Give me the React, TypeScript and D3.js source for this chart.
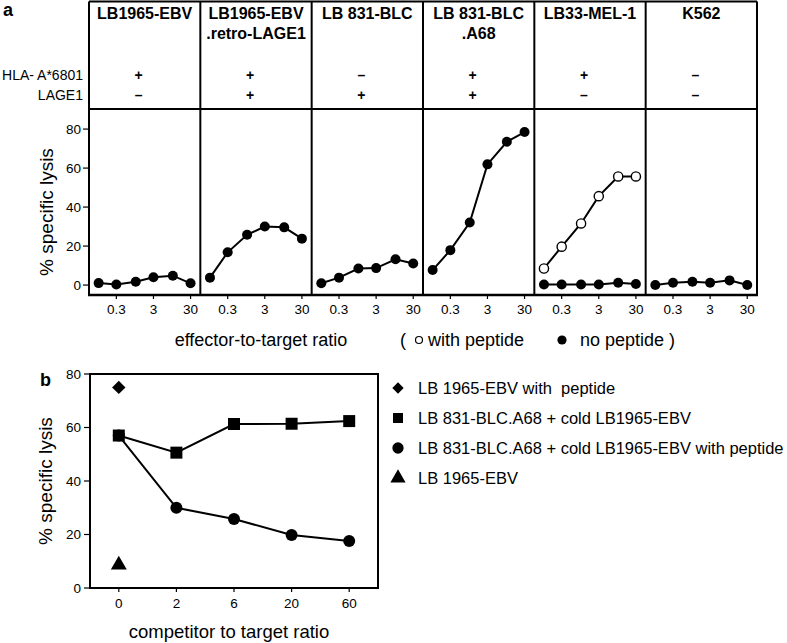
import React from "react";
import * as d3 from "d3";

// panel a
const cellLines = ["LB1965-EBV", "LB1965-EBV", "LB 831-BLC", "LB 831-BLC", "LB33-MEL-1", "K562"];
const cellLines2 = ["", ".retro-LAGE1", "", ".A68", "", ""];
const hlaA6801 = ["+", "+", "–", "+", "+", "–"];
const lage1 = ["–", "+", "+", "+", "–", "–"];
const etRatios = [0.1, 0.3, 1, 3, 10, 30];
const etTicks = [0.3, 3, 30];
const lysisTicksA = [0, 20, 40, 60, 80];
const noPeptide = [
  [1, 0.3, 1.7, 4, 4.8, 0.9],
  [3.8, 16.8, 25.8, 30, 29.6, 23.8],
  [0.9, 3.8, 8.5, 8.7, 13.2, 11.1],
  [7.7, 17.9, 32.1, 61.9, 73.5, 78.5],
  [0.3, 0.3, 0.3, 0.3, 1.2, 0.5],
  [0, 1.2, 1.7, 1.2, 2.4, 0],
];
const withPeptide: (number[] | null)[] = [null, null, null, null, [8.5, 19.7, 31.6, 45.6, 55.7, 55.7], null];

// panel b
const competitorRatios = ["0", "2", "6", "20", "60"];
const coldEBV = [57, 50.6, 61.3, 61.4, 62.4];
const coldEBVPeptide = [57, 30, 25.8, 19.8, 17.6];
const ebvWithPeptide = 75;
const ebvAlone = 8.6;
const lysisTicksB = [0, 20, 40, 60, 80];
const legendB = [
  "LB 1965-EBV with  peptide",
  "LB 831-BLC.A68 + cold LB1965-EBV",
  "LB 831-BLC.A68 + cold LB1965-EBV with peptide",
  "LB 1965-EBV",
];

const font = "'Liberation Sans', Arial, Helvetica, sans-serif";

export default function App() {
  const W = 787, H = 643;

  // ---- panel a layout
  const aLeft = 89, aRight = 757, aTop = 1.5, aHead = 109, aBottom = 295;
  const col = d3.scaleBand<number>().domain(d3.range(6)).range([aLeft, aRight]);
  const yA = d3.scaleLinear().domain([-5.1, 90.3]).range([aBottom, aHead]);
  const xFor = (i: number) =>
    d3.scaleLog().domain([0.055, 55]).range([col(i)!, col(i)! + col.bandwidth()]);

  // ---- panel b layout
  const bLeft = 90, bRight = 378, bTop = 374, bBottom = 588;
  const xB = d3.scalePoint<string>().domain(competitorRatios).range([bLeft, bRight]).padding(0.5);
  const yB = d3.scaleLinear().domain([0, 80]).range([bBottom, bTop]);
  const lineB = d3.line<number>().x((_, i) => xB(competitorRatios[i])!).y(d => yB(d));

  const sym = (type: d3.SymbolType, size: number) => d3.symbol().type(type).size(size)()!;

  return (
    <svg width={W} height={H} style={{ position: "absolute", left: 0, top: 0, background: "#fff" }} fontFamily={font}>
      {/* panel a */}
      <text x={3} y={16} fontSize={18} fontWeight="bold">a</text>
      <text x={83} y={80} fontSize={14} textAnchor="end">HLA- A*6801</text>
      <text x={83} y={100} fontSize={14} textAnchor="end">LAGE1</text>

      {d3.range(6).map(i => {
        const x = xFor(i);
        const cx = col(i)! + col.bandwidth() / 2;
        const line = d3.line<number>().x((_, k) => x(etRatios[k])).y(d => yA(d));
        const wp = withPeptide[i];
        return (
          <g key={i}>
            <text x={cx} y={19} fontSize={16} fontWeight="bold" textAnchor="middle">{cellLines[i]}</text>
            {cellLines2[i] && (
              <text x={cx} y={39} fontSize={16} fontWeight="bold" textAnchor="middle">{cellLines2[i]}</text>
            )}
            <text x={cx - 6} y={80} fontSize={14} textAnchor="middle" fontWeight="bold">{hlaA6801[i]}</text>
            <text x={cx - 6} y={100} fontSize={14} textAnchor="middle" fontWeight="bold">{lage1[i]}</text>
            {etTicks.map(t => (
              <g key={t}>
                <line x1={x(t)} x2={x(t)} y1={aBottom} y2={aBottom + 4} stroke="#000" strokeWidth={1.2} />
                <text x={x(t)} y={314} fontSize={13.5} textAnchor="middle">{t}</text>
              </g>
            ))}
            {wp && (
              <g>
                <path d={line(wp)!} fill="none" stroke="#000" strokeWidth={2} />
                {wp.map((d, k) => (
                  <circle key={k} cx={x(etRatios[k])} cy={yA(d)} r={4.6} fill="#fff" stroke="#000" strokeWidth={1.4} />
                ))}
              </g>
            )}
            <path d={line(noPeptide[i])!} fill="none" stroke="#000" strokeWidth={2} />
            {noPeptide[i].map((d, k) => (
              <circle key={k} cx={x(etRatios[k])} cy={yA(d)} r={5} fill="#000" />
            ))}
            <line x1={col(i)!} x2={col(i)!} y1={aTop} y2={aBottom} stroke="#000" strokeWidth={2} />
          </g>
        );
      })}
      <line x1={aRight} x2={aRight} y1={aTop} y2={aBottom} stroke="#000" strokeWidth={2} />
      <line x1={aLeft} x2={aRight} y1={aTop} y2={aTop} stroke="#000" strokeWidth={2} />
      <line x1={aLeft} x2={aRight} y1={aHead} y2={aHead} stroke="#000" strokeWidth={2} />
      <line x1={aLeft - 1} x2={aRight + 1} y1={aBottom} y2={aBottom} stroke="#000" strokeWidth={2.4} />
      {lysisTicksA.map(t => (
        <g key={t}>
          <line x1={aLeft - 6} x2={aLeft} y1={yA(t)} y2={yA(t)} stroke="#000" strokeWidth={1.2} />
          <text x={aLeft - 8} y={yA(t)} dy="0.35em" fontSize={13.5} textAnchor="end">{t}</text>
        </g>
      ))}
      <text transform={`translate(53,${(aHead + aBottom) / 2 + 10}) rotate(-90)`} fontSize={19} textAnchor="middle">% specific lysis</text>
      <text x={261} y={346} fontSize={18} textAnchor="middle">effector-to-target ratio</text>
      <text x={400} y={346} fontSize={18}>(</text>
      <circle cx={419} cy={340} r={3.5} fill="#fff" stroke="#000" strokeWidth={1.2} />
      <text x={428} y={346} fontSize={18}>with peptide</text>
      <circle cx={562} cy={340} r={4.6} fill="#000" />
      <text x={580} y={346} fontSize={18}>no peptide )</text>

      {/* panel b */}
      <text x={40} y={386} fontSize={18} fontWeight="bold">b</text>
      <rect x={bLeft} y={bTop} width={bRight - bLeft} height={bBottom - bTop} fill="none" stroke="#000" strokeWidth={2} />
      {lysisTicksB.map(t => (
        <g key={t}>
          <line x1={bLeft - 6} x2={bLeft} y1={yB(t)} y2={yB(t)} stroke="#000" strokeWidth={1.2} />
          <text x={bLeft - 9} y={yB(t)} dy="0.35em" fontSize={13.5} textAnchor="end">{t}</text>
        </g>
      ))}
      {competitorRatios.map(c => (
        <g key={c}>
          <line x1={xB(c)!} x2={xB(c)!} y1={bBottom} y2={bBottom + 4} stroke="#000" strokeWidth={1.2} />
          <text x={xB(c)!} y={608} fontSize={13.5} textAnchor="middle">{c}</text>
        </g>
      ))}
      <path d={lineB(coldEBVPeptide)!} fill="none" stroke="#000" strokeWidth={2} />
      <path d={lineB(coldEBV)!} fill="none" stroke="#000" strokeWidth={2} />
      {coldEBVPeptide.map((d, i) => (
        <circle key={i} cx={xB(competitorRatios[i])!} cy={yB(d)} r={6} fill="#000" />
      ))}
      {coldEBV.map((d, i) => (
        <path key={i} d={sym(d3.symbolSquare, 144)} transform={`translate(${xB(competitorRatios[i])},${yB(d)})`} fill="#000" />
      ))}
      <path d={sym(d3.symbolSquare, 90)} transform={`translate(${xB("0")},${yB(ebvWithPeptide)}) rotate(45)`} fill="#000" />
      <path d={sym(d3.symbolTriangle, 110)} transform={`translate(${xB("0")},${yB(ebvAlone)})`} fill="#000" />
      <text transform={`translate(52,${(bTop + bBottom) / 2}) rotate(-90)`} fontSize={19} textAnchor="middle">% specific lysis</text>
      <text x={229} y={638} fontSize={18.5} textAnchor="middle">competitor to target ratio</text>

      {legendB.map((label, i) => {
        const y = 388 + i * 30;
        const types = [d3.symbolSquare, d3.symbolSquare, d3.symbolCircle, d3.symbolTriangle];
        const sizes = [64, 100, 100, 100];
        return (
          <g key={i}>
            <path d={sym(types[i], sizes[i])} transform={`translate(398,${y})${i === 0 ? " rotate(45)" : ""}`} fill="#000" />
            <text x={418} y={y} dy="0.35em" fontSize={16.5} style={{ whiteSpace: "pre" }}>{label}</text>
          </g>
        );
      })}
    </svg>
  );
}
